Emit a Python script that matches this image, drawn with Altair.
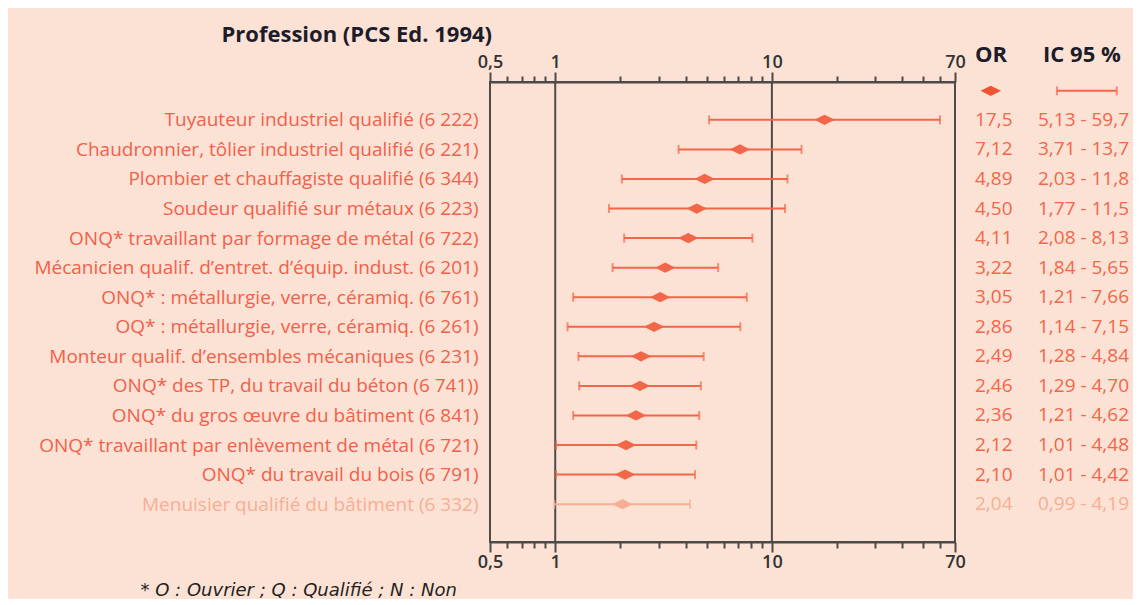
import json
import altair as alt
import pandas as pd

# ---------------- data ----------------
professions = [
    "Tuyauteur industriel qualifié (6 222)",
    "Chaudronnier, tôlier industriel qualifié (6 221)",
    "Plombier et chauffagiste qualifié (6 344)",
    "Soudeur qualifié sur métaux (6 223)",
    "ONQ* travaillant par formage de métal (6 722)",
    "Mécanicien qualif. d’entret. d’équip. indust. (6 201)",
    "ONQ* : métallurgie, verre, céramiq. (6 761)",
    "OQ* : métallurgie, verre, céramiq. (6 261)",
    "Monteur qualif. d’ensembles mécaniques (6 231)",
    "ONQ* des TP, du travail du béton (6 741))",
    "ONQ* du gros œuvre du bâtiment (6 841)",
    "ONQ* travaillant par enlèvement de métal (6 721)",
    "ONQ* du travail du bois (6 791)",
    "Menuisier qualifié du bâtiment (6 332)",
]
odds_ratio = [17.5, 7.12, 4.89, 4.50, 4.11, 3.22, 3.05, 2.86, 2.49, 2.46, 2.36, 2.12, 2.10, 2.04]
ci_low = [5.13, 3.71, 2.03, 1.77, 2.08, 1.84, 1.21, 1.14, 1.28, 1.29, 1.21, 1.01, 1.01, 0.99]
ci_high = [59.7, 13.7, 11.8, 11.5, 8.13, 5.65, 7.66, 7.15, 4.84, 4.70, 4.62, 4.48, 4.42, 4.19]
not_significant = [False] * 13 + [True]

axis_ticks = [0.5, 0.6, 0.7, 0.8, 0.9, 1, 2, 3, 4, 5, 6, 7, 8, 9, 10, 20, 30, 40, 50, 60, 70]
major_ticks = [0.5, 1, 10, 70]
ref_lines = [1, 10]
headers = ["OR", "IC 95 %"]
chart_title = "Profession (PCS Ed. 1994)"
footnote = "* O : Ouvrier ; Q : Qualifié ; N : Non"

# ---------------- styles ----------------
RED = "#ef5334"
LINE = "#f2664a"
TXT = "#f2604a"
FADE = "#f7ae95"
DARK = "#4d4a4a"
INK = "#1c1c2a"
BG = "#fce2d4"
FONT = "Open Sans"

W, H = 465, 460
PAD = 1.28
COL_PX = 63.0
COL_ORIGIN = 485.0
DIAMOND = "M-1,0L0,-0.5L1,0L0,0.5Z"
N = len(professions)


def fr(v):
    s = f"{v:.2f}" if v < 1 else f"{v:#.3g}"
    return s.replace(".", ",")


df = pd.DataFrame({
    "profession": professions,
    "or": odds_ratio,
    "lo": ci_low,
    "hi": ci_high,
    "tone": ["faded" if f else "main" for f in not_significant],
    "idx": list(range(N)),
})

rows = []
for i, p in enumerate(professions):
    tone = "faded" if not_significant[i] else "main"
    rows.append({"col": 0.0, "idx": i, "txt": fr(odds_ratio[i]), "tone": tone})
    rows.append({"col": 1.0, "idx": i, "txt": f"{fr(ci_low[i])} - {fr(ci_high[i])}", "tone": tone})
df_txt = pd.DataFrame(rows)

df_head = pd.DataFrame({"txt": headers, "col": [0.0, 1.08], "idx": [-2.2, -2.2]})
df_leg_d = pd.DataFrame({"col": [0.25], "idx": [-0.98]})
df_leg_e = pd.DataFrame({"a": [1.30], "b": [2.25], "idx": [-0.98]})
df_leg_c = pd.DataFrame({"col": [1.30, 2.25], "idx": [-0.98, -0.98]})
df_ref = pd.DataFrame({"v": ref_lines})

tone_color = alt.Color("tone:N", scale=alt.Scale(domain=["main", "faded"], range=[LINE, FADE]), legend=None)
dia_color = alt.Color("tone:N", scale=alt.Scale(domain=["main", "faded"], range=[RED, FADE]), legend=None)

xs = alt.Scale(type="log", domain=[0.5, 70], nice=False)
yq = alt.Scale(domain=[-PAD, N - 1 + PAD], reverse=True, nice=False, zero=False)
major_test = f"indexof({json.dumps(major_ticks)}, datum.value) >= 0"
label_expr = f"{major_test} ? replace(toString(datum.value), '.', ',') : ''"


def x_axis(orient, **extra):
    return alt.Axis(
        orient=orient, values=axis_ticks, labelExpr=label_expr, grid=False,
        tickSize={"condition": {"test": major_test, "value": 10}, "value": 6},
        tickWidth=2, tickColor=DARK, domainColor=DARK, domainWidth=2,
        labelFont=FONT, labelFontSize=18, labelFontWeight=600, labelColor="#333333",
        labelPadding=1, labelFlush=False, labelOverlap=False, **extra,
    )


faded_idx = [i for i, f in enumerate(not_significant) if f]
y_axis = alt.Axis(
    orient="left", ticks=False, domain=False, grid=False, title=None,
    values=list(range(N)),
    labelExpr=f"{json.dumps(professions, ensure_ascii=False)}[datum.value]",
    labelFont=FONT, labelFontSize=19, labelPadding=12, labelLimit=700,
    labelOverlap=False, labelBound=False, labelFlush=False,
    labelColor={"condition": {"test": f"indexof({json.dumps(faded_idx)}, datum.value) >= 0", "value": FADE},
                "value": TXT},
)
yA = alt.Y("idx:Q", scale=yq, axis=y_axis)

refs = alt.Chart(df_ref).mark_rule(color=DARK, strokeWidth=2).encode(
    x=alt.X("v:Q", scale=xs, axis=x_axis("top", title=None))
)
err = alt.Chart(df).mark_rule(strokeWidth=2).encode(
    x=alt.X("lo:Q", scale=xs, axis=x_axis(
        "bottom", title=footnote, titleX=-350, titleY=48, titleAlign="left",
        titleBaseline="middle", titleFont="DejaVu Sans", titleFontSize=18, titleFontStyle="italic",
        titleFontWeight="normal", titleColor="#222222")),
    x2="hi:Q", y=yA, color=tone_color,
)
caps = alt.Chart(df).transform_fold(["lo", "hi"], as_=["end", "val"]).mark_tick(
    thickness=2, size=9, orient="vertical"
).encode(x=alt.X("val:Q", scale=xs, axis=None), y=yA, color=tone_color)
dia = alt.Chart(df).mark_point(
    shape=DIAMOND, size=420, filled=True, opacity=1
).encode(x=alt.X("or:Q", scale=xs, axis=None), y=yA, color=dia_color)

panelA = alt.layer(refs, err, caps, dia).resolve_axis(x="independent")

xc = alt.Scale(domain=[-COL_ORIGIN / COL_PX, (W - COL_ORIGIN) / COL_PX], nice=False, zero=False)
yB = alt.Y("idx:Q", scale=yq, axis=None)

txt = alt.Chart(df_txt).mark_text(align="left", baseline="middle", font=FONT, fontSize=19).encode(
    x=alt.X("col:Q", scale=xc, axis=None),
    y=yB,
    text="txt:N",
    color=alt.Color("tone:N", scale=alt.Scale(domain=["main", "faded"], range=[TXT, FADE]), legend=None),
)
head = alt.Chart(df_head).mark_text(align="left", baseline="middle", font=FONT, fontSize=22,
                                     fontWeight="bold", color=INK).encode(
    x=alt.X("col:Q", scale=xc, axis=None), y=yB, text="txt:N"
)
leg_d = alt.Chart(df_leg_d).mark_point(
    shape=DIAMOND, size=420, filled=True, opacity=1, color=RED
).encode(x=alt.X("col:Q", scale=xc, axis=None), y=yB)
leg_e = alt.Chart(df_leg_e).mark_rule(strokeWidth=2, color=LINE).encode(
    x=alt.X("a:Q", scale=xc, axis=None), x2="b:Q", y=yB
)
leg_c = alt.Chart(df_leg_c).mark_tick(thickness=2, size=9, orient="vertical", color=LINE).encode(
    x=alt.X("col:Q", scale=xc, axis=None), y=yB
)
panelB = alt.layer(txt, head, leg_d, leg_e, leg_c)

chart = alt.layer(panelA, panelB).resolve_scale(x="independent", y="independent").properties(
    width=W, height=H,
    title=alt.TitleParams(chart_title, anchor="start", frame="group", align="right", dx=2,
                          font=FONT, fontSize=22, fontWeight="bold", color=INK, offset=-3),
    padding={"left": 25, "top": 15, "right": 3, "bottom": 0},
    view=alt.ViewBackground(stroke=DARK, strokeWidth=2),
).configure(background=BG, font=FONT)

chart.save("out.html", embed_options={"renderer": "svg", "actions": False})
